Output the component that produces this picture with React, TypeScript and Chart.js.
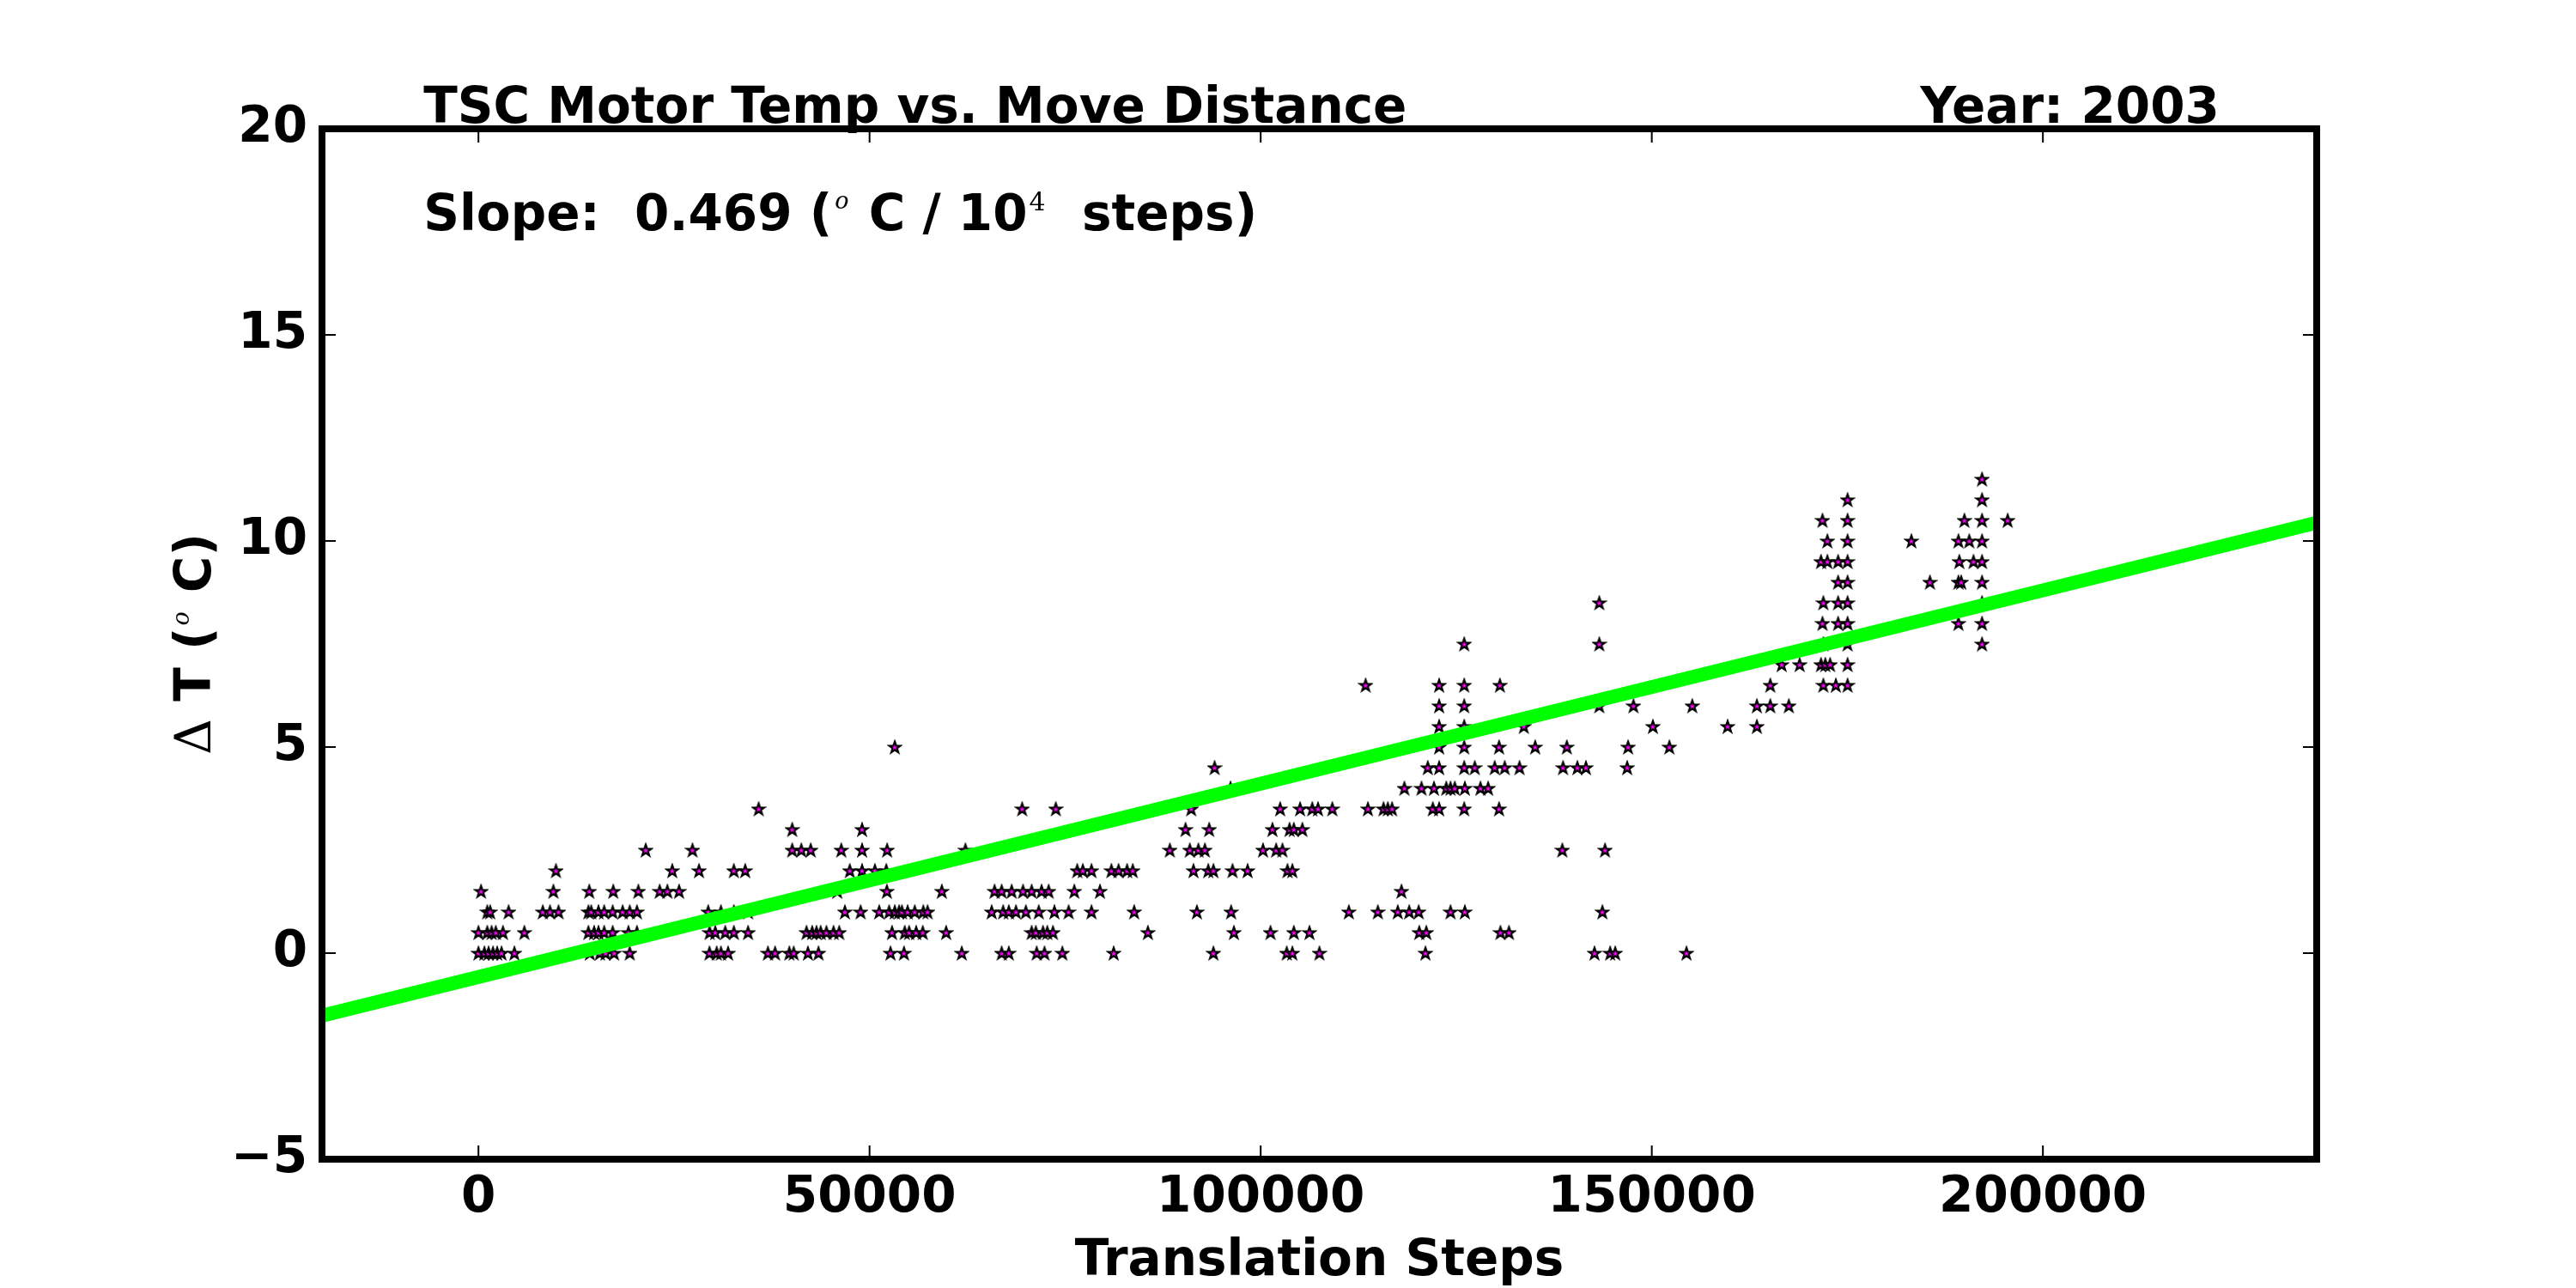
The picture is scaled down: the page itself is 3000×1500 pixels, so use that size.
import { useEffect, useRef } from 'react';
import { Chart, registerables } from 'chart.js';

Chart.register(...registerables);

// Delta T levels (deg C) and the move distances (translation steps) seen at each level
const deltaTLevels = [0, 0.5, 1, 1.5, 2, 2.5, 3, 3.5, 4, 4.5, 5, 5.5, 6, 6.5, 7, 7.5, 8, 8.5, 9, 9.5, 10, 10.5, 11, 11.5];
const stepsAtLevel: number[][] = [
  [0, 765, 1300, 1860, 2400, 2950, 4600, 14240, 15520, 16250, 17340, 19340, 29540, 30460, 31000, 31910, 37010, 37920,
    39750, 40300, 42120, 43470, 52680, 54400, 61790, 66890, 67800, 71370, 72360, 74650,
    81210, 93960, 103330, 104050, 107510, 121070, 142670, 144680, 145330, 154440],
  [0, 1130, 1680, 2220, 3130, 5870, 14060, 14790, 15340, 16070, 17160, 19170, 20260, 29550, 30280, 31550, 32650, 34470,
    41940, 42660, 43210, 43750, 44490, 45390, 46120, 52870, 54500, 55050, 55960, 56800, 59790, 70720, 71260, 72170, 72720, 73450,
    85580, 96580, 101250, 104240, 106240, 120270, 121180, 130650, 131740],
  [1130, 1500, 3860, 8230, 9150, 10240, 14060, 14420, 15340, 16070, 17160, 18440, 19340, 20260, 29370, 31000, 32650, 34470,
    46850, 48860, 51230, 52500, 53230, 53780, 54140, 54870, 55780, 56870, 57420, 65610, 67080, 67800, 68720, 69980, 71630, 73630, 75450, 78370,
    83830, 91850, 96220, 111270, 114980, 117530, 118990, 120200, 124270, 126100, 143690],
  [330, 9580, 14170, 17240, 20440, 23170, 24150, 25650,
    45870, 52210, 59240, 65980, 66890, 68170, 69620, 70720, 71990, 72900, 76180, 79460, 118000],
  [9910, 24780, 28200, 32650, 34100, 47470, 49040, 50680, 52140, 76550, 77270, 78370,
    80920, 81830, 82920, 83650, 91410, 93300, 93960, 96400, 98330, 103430, 104050],
  [21390, 27360, 40110, 41280, 42480, 46380, 49040, 52250, 62260,
    88390, 90940, 92030, 92870, 100300, 101980, 102780, 138560, 144020],
  [40110, 49040, 90390, 93420, 101500, 103690, 104240, 105330],
  [35820, 69510, 73810, 91120, 102490, 105040, 106600, 107330, 109160, 113710, 115710, 116260, 116800,
    122010, 122820, 126020, 130470],
  [96150, 118370, 120560, 122160, 123730, 124270, 124820, 126100, 128100, 129080],
  [94110, 121360, 122820, 126020, 127370, 129920, 131200, 133090, 138660, 140490, 141580, 146860],
  [53230, 122820, 126020, 130470, 135090, 139140, 146970, 152250],
  [122820, 126020, 133640, 150140, 159690, 163440],
  [122820, 126020, 143290, 147660, 155170, 163440, 165150, 167520],
  [113420, 122820, 126020, 130580, 165150, 171930, 173530, 175030],
  [166610, 168900, 171630, 172180, 172800, 175030],
  [126020, 143290, 171930, 175030, 192220],
  [171820, 173820, 175030, 189200, 192220],
  [143290, 171930, 173820, 175030, 192220],
  [173820, 175030, 185560, 189200, 189560, 192220],
  [171630, 172450, 173820, 175030, 189310, 191130, 192220],
  [172450, 175030, 183190, 189200, 190590, 192220],
  [171820, 175030, 189960, 192220, 195500],
  [175030, 192220],
  [192220],
];

const xRange = [-20000, 235000];
const yRange = [-5, 20];
const xTickValues = [0, 50000, 100000, 150000, 200000];
const yTickValues = [-5, 0, 5, 10, 15, 20];

// linear fit: 0.469 deg C per 10^4 steps
const fitSlope = 0.469e-4;
const fitIntercept = -0.58;

const titleText = 'TSC Motor Temp vs. Move Distance';
const yearText = 'Year: 2003';
const xTitle = 'Translation Steps';

const BOLD = 'bold 58px "DejaVu Sans"';
const SUP_O = 'italic 27px "DejaVu Serif"';
const SUP_NUM = '30px "DejaVu Serif"';
const DELTA = '58px "DejaVu Serif"';

type Seg = { text: string; font: string; rise?: number; gap?: number };

const slopeSegs: Seg[] = [
  { text: 'Slope:  0.469 (', font: BOLD },
  { text: 'o', font: SUP_O, rise: 25, gap: 3 },
  { text: ' C / 10', font: BOLD },
  { text: '4', font: SUP_NUM, rise: 23, gap: 2 },
  { text: '  steps)', font: BOLD },
];

const yTitleSegs: Seg[] = [
  { text: '\u0394', font: DELTA },
  { text: ' T (', font: BOLD },
  { text: 'o', font: SUP_O, rise: 25, gap: 2 },
  { text: ' C)', font: BOLD },
];

function segsWidth(ctx: CanvasRenderingContext2D, segs: Seg[]) {
  let w = 0;
  for (const s of segs) {
    ctx.font = s.font;
    w += ctx.measureText(s.text).width + (s.gap ?? 0) * 2;
  }
  return w;
}

function drawSegs(ctx: CanvasRenderingContext2D, segs: Seg[], x: number, y: number) {
  let cx = x;
  for (const s of segs) {
    ctx.font = s.font;
    cx += s.gap ?? 0;
    ctx.fillText(s.text, cx, y - (s.rise ?? 0));
    cx += ctx.measureText(s.text).width + (s.gap ?? 0);
  }
}

function makeStar(): HTMLCanvasElement {
  const c = document.createElement('canvas');
  c.width = 18;
  c.height = 18;
  const g = c.getContext('2d')!;
  g.beginPath();
  for (let i = 0; i < 10; i++) {
    const r = i % 2 === 0 ? 7 : 2.8;
    const a = -Math.PI / 2 + (i * Math.PI) / 5;
    const px = 9 + r * Math.cos(a);
    const py = 9.6 + r * Math.sin(a);
    if (i === 0) g.moveTo(px, py);
    else g.lineTo(px, py);
  }
  g.closePath();
  g.fillStyle = '#ff00ff';
  g.fill();
  g.lineWidth = 2.2;
  g.strokeStyle = '#000';
  g.stroke();
  return c;
}

const fmtTick = (v: number) => (v < 0 ? '\u2212' + Math.abs(v) : String(v));

const framePlugin = {
  id: 'mplFrame',
  afterDatasetsDraw(chart: Chart) {
    const { ctx, chartArea: a } = chart;
    const xs = chart.scales.x;
    const ys = chart.scales.y;
    const tl = 16;
    ctx.save();
    ctx.strokeStyle = '#000';
    ctx.lineWidth = 2;
    ctx.beginPath();
    for (const t of xs.ticks) {
      const px = xs.getPixelForValue(t.value);
      ctx.moveTo(px, a.bottom);
      ctx.lineTo(px, a.bottom - tl);
      ctx.moveTo(px, a.top);
      ctx.lineTo(px, a.top + tl);
    }
    for (const t of ys.ticks) {
      const py = ys.getPixelForValue(t.value);
      ctx.moveTo(a.left, py);
      ctx.lineTo(a.left + tl, py);
      ctx.moveTo(a.right, py);
      ctx.lineTo(a.right - tl, py);
    }
    ctx.stroke();
    ctx.lineWidth = 8;
    ctx.strokeRect(a.left, a.top, a.right - a.left, a.bottom - a.top);
    ctx.restore();
  },
  afterDraw(chart: Chart) {
    const { ctx, chartArea: a } = chart;
    const w = a.right - a.left;
    const h = a.bottom - a.top;
    ctx.save();
    ctx.fillStyle = '#000';
    ctx.textBaseline = 'alphabetic';

    ctx.font = BOLD;
    ctx.textAlign = 'left';
    ctx.fillText(titleText, a.left + 0.05 * w + 2, a.top - 7);
    ctx.textAlign = 'right';
    ctx.fillText(yearText, a.left + 0.95 * w + 3, a.top - 7);

    ctx.textAlign = 'left';
    drawSegs(ctx, slopeSegs, a.left + 0.05 * w + 2, a.top + 0.1 * h - 2);

    const tw = segsWidth(ctx, yTitleSegs);
    ctx.translate(a.left - 130, a.top + h / 2 + tw / 2);
    ctx.rotate(-Math.PI / 2);
    drawSegs(ctx, yTitleSegs, 0, 0);
    ctx.restore();
  },
};

export default function App() {
  const canvasRef = useRef<HTMLCanvasElement>(null);
  const chartRef = useRef<Chart | null>(null);

  useEffect(() => {
    document.body.style.margin = '0';
    if (!canvasRef.current) return;
    if (chartRef.current) chartRef.current.destroy();

    const points = deltaTLevels.flatMap((t, i) => stepsAtLevel[i].map((s) => ({ x: s, y: t })));
    const fitLine = xRange.map((x) => ({ x, y: fitSlope * x + fitIntercept }));
    const tickFont = { family: 'DejaVu Sans', size: 58, weight: 'bold' as const };

    chartRef.current = new Chart(canvasRef.current, {
      type: 'scatter',
      data: {
        datasets: [
          {
            type: 'line',
            data: fitLine,
            borderColor: '#00ff00',
            borderWidth: 16,
            pointRadius: 0,
            fill: false,
            order: 0,
          },
          {
            data: points,
            pointStyle: makeStar(),
            pointRadius: 7,
            order: 1,
          },
        ],
      },
      options: {
        animation: false,
        responsive: false,
        devicePixelRatio: 1,
        events: [],
        layout: { padding: { top: 150, right: 302, left: 0, bottom: 0 } },
        plugins: { legend: { display: false }, tooltip: { enabled: false }, title: { display: false } },
        scales: {
          x: {
            type: 'linear',
            min: xRange[0],
            max: xRange[1],
            afterBuildTicks: (s: any) => {
              s.ticks = xTickValues.map((v) => ({ value: v }));
            },
            afterFit: (s: any) => {
              s.height = 150;
            },
            grid: { display: false, drawTicks: false },
            border: { display: false },
            ticks: {
              font: tickFont,
              color: '#000',
              padding: 11,
              maxRotation: 0,
              autoSkip: false,
              callback: (v: any) => fmtTick(Number(v)),
            },
            title: {
              display: true,
              text: xTitle,
              color: '#000',
              font: { ...tickFont, lineHeight: 1 },
              padding: { top: 0, bottom: 1 },
            },
          },
          y: {
            type: 'linear',
            min: yRange[0],
            max: yRange[1],
            afterBuildTicks: (s: any) => {
              s.ticks = yTickValues.map((v) => ({ value: v }));
            },
            afterFit: (s: any) => {
              s.width = 375;
            },
            grid: { display: false, drawTicks: false },
            border: { display: false },
            ticks: {
              font: tickFont,
              color: '#000',
              padding: 17,
              autoSkip: false,
              callback: (v: any) => fmtTick(Number(v)),
            },
          },
        },
      },
      plugins: [framePlugin],
    });

    return () => {
      if (chartRef.current) {
        chartRef.current.destroy();
        chartRef.current = null;
      }
    };
  }, []);

  return (
    <div style={{ width: 3000, height: 1500, background: '#fff' }}>
      <canvas ref={canvasRef} width={3000} height={1500} style={{ display: 'block' }} />
    </div>
  );
}
